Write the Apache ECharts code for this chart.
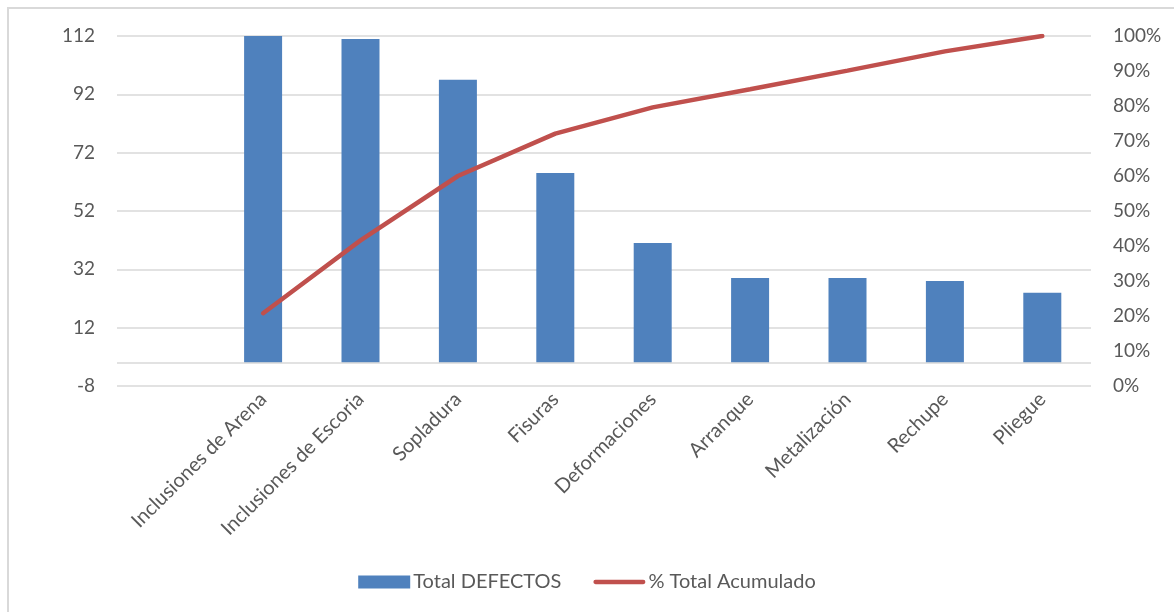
<!DOCTYPE html>
<html>
<head>
<meta charset="utf-8">
<script src="https://cdn.jsdelivr.net/npm/echarts@6/dist/echarts.min.js"></script>
<style>
  html, body { margin: 0; padding: 0; background: #fff; }
  #chart { width: 1174px; height: 612px; }
</style>
</head>
<body>
<div id="chart"></div>
<script>
// first slot is empty in the original sheet
const categories = ['', 'Inclusiones de Arena', 'Inclusiones de Escoria', 'Sopladura', 'Fisuras',
  'Deformaciones', 'Arranque', 'Metalización', 'Rechupe', 'Pliegue'];
const totalDefectos = [null, 112, 111, 97, 65, 41, 29, 29, 28, 24];
const totalAcumulado = [null, 20.8, 41.6, 60.0, 72.1, 79.6, 84.8, 90.1, 95.6, 100];
const leftTicks = { min: -8, max: 112, step: 20 };
const rightTicks = { min: 0, max: 100, step: 10 };

const font = 'Lato';
const textColor = '#595959';

const chart = echarts.init(document.getElementById('chart'));

const options = {
  animation: false,
  textStyle: { fontFamily: font },
  graphic: [
    {
      type: 'rect',
      shape: { x: 8, y: 8, width: 1300, height: 800 },
      style: { fill: 'none', stroke: '#d9d9d9', lineWidth: 2 },
      silent: true,
    },
  ],
  grid: { left: 117, right: 83, top: 36, bottom: 226 },
  legend: {
    top: 567,
    left: 'center',
    itemWidth: 52,
    itemHeight: 13,
    itemGap: 32,
    textStyle: { fontFamily: font, fontSize: 20, color: textColor, padding: [0, 0, 0, -2] },
    data: [
      { name: 'Total DEFECTOS', icon: 'rect' },
      {
        name: '% Total Acumulado',
        icon: 'path://M2.25,0h50.5a2.25,2.25 0 0 1 0,4.5h-50.5a2.25,2.25 0 0 1 0,-4.5z',
      },
    ],
  },
  xAxis: {
    type: 'category',
    data: categories,
    axisLine: { show: false },
    axisTick: { show: false },
    axisLabel: {
      rotate: 45,
      interval: 0,
      margin: 10,
      fontFamily: font,
      fontSize: 20,
      color: textColor,
    },
  },
  yAxis: [
    {
      type: 'value',
      min: leftTicks.min,
      max: leftTicks.max,
      interval: leftTicks.step,
      axisLine: { show: false },
      axisTick: { show: false },
      axisLabel: { margin: 22, fontFamily: font, fontSize: 19, color: textColor },
      splitLine: { lineStyle: { color: '#d9d9d9', width: 1.5 } },
    },
    {
      type: 'value',
      min: rightTicks.min,
      max: rightTicks.max,
      interval: rightTicks.step,
      axisLine: { show: false },
      axisTick: { show: false },
      splitLine: { show: false },
      axisLabel: {
        margin: 22,
        fontFamily: font,
        fontSize: 19,
        color: textColor,
        formatter: '{value}%',
      },
    },
  ],
  series: [
    {
      name: 'Total DEFECTOS',
      type: 'bar',
      data: totalDefectos,
      barWidth: 38,
      itemStyle: { color: '#4f81bd' },
      markLine: {
        silent: true,
        symbol: 'none',
        label: { show: false },
        lineStyle: { color: '#d9d9d9', width: 1.5, type: 'solid' },
        data: [{ yAxis: 0 }],
      },
    },
    {
      name: '% Total Acumulado',
      type: 'line',
      yAxisIndex: 1,
      data: totalAcumulado,
      symbol: 'none',
      lineStyle: { color: '#c0504d', width: 4.5, cap: 'round' },
      itemStyle: { color: '#c0504d' },
    },
  ],
};

chart.setOption(options);
</script>
</body>
</html>
